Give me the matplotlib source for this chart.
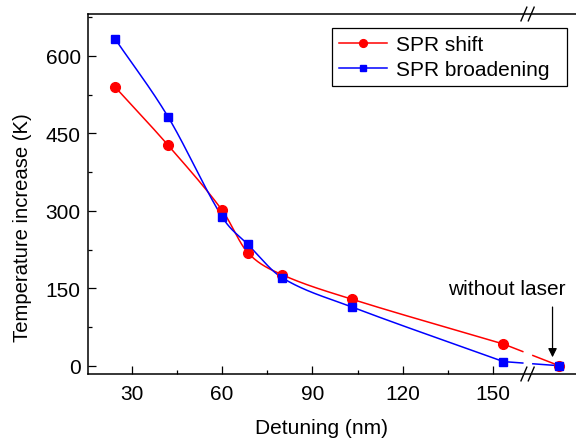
import numpy as np
import matplotlib.pyplot as plt
import matplotlib.ticker as mticker

plt.rcParams["font.family"] = ["Liberation Sans", "DejaVu Sans"]

# ── Data ─────────────────────────────────────────────────────────────
DETUNING = [24.5, 42, 60, 68.5, 80, 103, 153.5]   # nm
NO_LASER_X = 172                                  # position right of the axis break
SPR_SHIFT = [539, 427, 301, 219, 176, 129, 42]
SPR_BROAD = [632, 482, 288, 235, 170, 114, 8]
NO_LASER_T = 0
X_TICKS = [30, 60, 90, 120, 150]
BREAK_X = 161.5
GAP = (160.0, 163.2)


def smooth_line(x, y, xs):
    """Cubic Hermite curve through the points (finite-difference tangents), for drawing."""
    x = np.asarray(x, float)
    y = np.asarray(y, float)
    n = len(x)
    h = np.diff(x)
    m = np.empty(n)
    m[0] = (y[1] - y[0]) / h[0]
    m[-1] = (y[-1] - y[-2]) / h[-1]
    m[1:-1] = (y[2:] - y[:-2]) / (x[2:] - x[:-2])
    idx = np.clip(np.searchsorted(x, xs) - 1, 0, n - 2)
    t = (xs - x[idx]) / h[idx]
    h00 = 2 * t**3 - 3 * t**2 + 1
    h10 = t**3 - 2 * t**2 + t
    h01 = -2 * t**3 + 3 * t**2
    h11 = t**3 - t**2
    return h00 * y[idx] + h10 * h[idx] * m[idx] + h01 * y[idx + 1] + h11 * h[idx] * m[idx + 1]


fig = plt.figure(figsize=(5.76, 4.39), dpi=100)
ax = fig.add_axes([0.1533, 0.1458, 0.8467, 0.82])

series = [
    ("SPR shift", SPR_SHIFT, "#ff0000", "o", 7),
    ("SPR broadening", SPR_BROAD, "#0000ff", "s", 6.2),
]
for label, vals, color, marker, ms in series:
    xs = np.linspace(DETUNING[0], DETUNING[-1], 600)
    ax.plot(xs, smooth_line(DETUNING, vals, xs), color=color, lw=1.1, zorder=2)
    # segment across the axis break, interrupted at the break
    tx = np.linspace(DETUNING[-1], NO_LASER_X, 200)
    ty = np.interp(tx, [DETUNING[-1], NO_LASER_X], [vals[-1], NO_LASER_T])
    ty[(tx > GAP[0]) & (tx < GAP[1])] = np.nan
    ax.plot(tx, ty, color=color, lw=1.1, zorder=2)
    ax.plot(DETUNING + [NO_LASER_X], vals + [NO_LASER_T], linestyle="none",
            marker=marker, ms=ms, color=color, zorder=3)
    # legend proxy
    ax.plot([], [], color=color, lw=1.1, marker=marker, ms=ms * 0.8, label=label)

ax.set_xlim(15.5, 177.6)
ax.set_ylim(-16, 681)
ax.set_xticks(X_TICKS)
ax.xaxis.set_minor_locator(mticker.FixedLocator([45, 75, 105, 135]))
ax.yaxis.set_major_locator(mticker.MultipleLocator(150))
ax.yaxis.set_minor_locator(mticker.MultipleLocator(75))
ax.tick_params(which="both", direction="in", labelsize=15, width=0.9)
ax.tick_params(which="major", length=5.8)
ax.tick_params(which="minor", length=3)
ax.tick_params(axis="x", pad=7.5)
ax.tick_params(axis="y", pad=5.5)
for side in ("left", "bottom", "top"):
    ax.spines[side].set_linewidth(1.1)
ax.spines["right"].set_visible(False)

# axis break marks
bx = (BREAK_X - 15.5) / (177.6 - 15.5)
dx, dy = 0.006, 0.019
for y0 in (0.0, 1.0):
    for off in (-0.0075, 0.0075):
        ax.plot([bx + off - dx, bx + off + dx], [y0 - dy, y0 + dy],
                transform=ax.transAxes, color="black", lw=1.0, clip_on=False)

ax.annotate("", xy=(169.8, 11), xytext=(169.8, 119),
            arrowprops=dict(arrowstyle="-|>", color="black", lw=0.9,
                            mutation_scale=13))
ax.text(154.6, 149, "without laser", fontsize=15, ha="center", va="center")

ax.set_xlabel("Detuning (nm)", fontsize=15)
ax.set_ylabel("Temperature increase (K)", fontsize=14.6)
ax.xaxis.set_label_coords(0.4786, -0.122)
ax.yaxis.set_label_coords(-0.1154, 0.408)

leg_x0, leg_x1 = 332 / 576, 567 / 576
leg = ax.legend(loc="upper left", mode="expand",
                bbox_to_anchor=(leg_x0, 1 - 29 / 439, leg_x1 - leg_x0, 0.001),
                bbox_transform=fig.transFigure, fontsize=15, frameon=True,
                fancybox=False, edgecolor="black", framealpha=1,
                handlelength=2.3, handletextpad=0.4, labelspacing=0.3,
                borderpad=0.35, borderaxespad=0)
leg.get_frame().set_linewidth(0.9)

fig.savefig("out.png", dpi=100)
